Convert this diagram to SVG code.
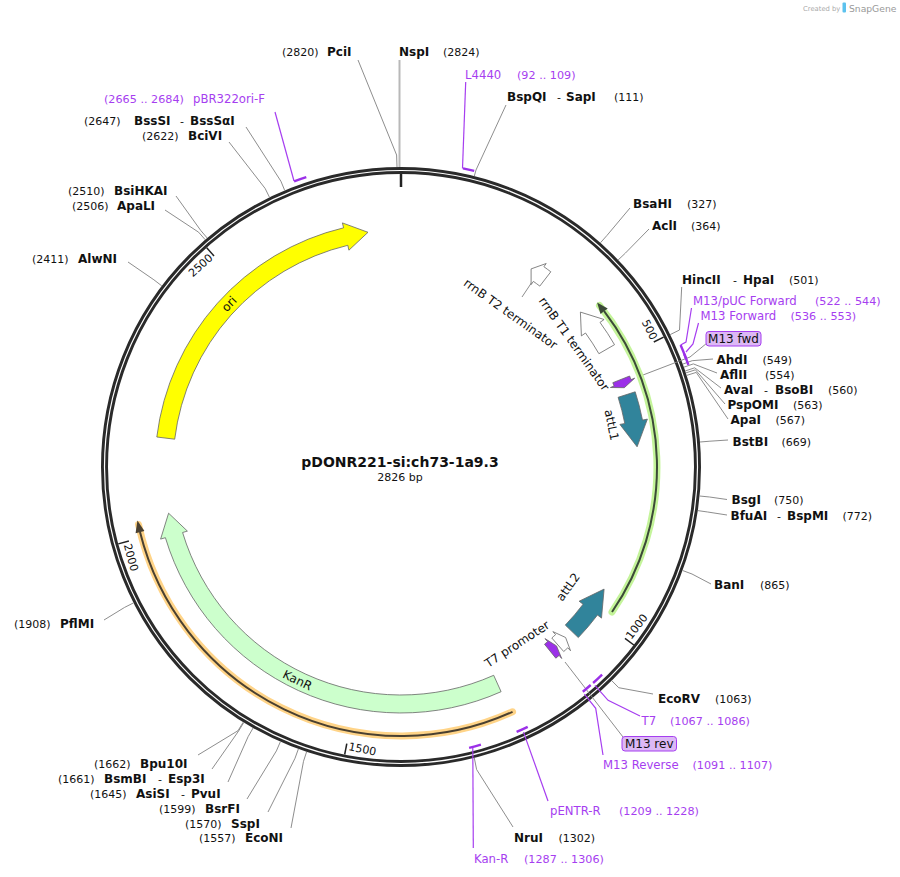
<svg xmlns="http://www.w3.org/2000/svg" width="900" height="877" viewBox="0 0 900 877">
<style>
text{font-family:"DejaVu Sans","Liberation Sans",sans-serif;fill:#111}
.b{font-weight:bold;font-size:12px}
.n{font-size:11px}
.p{font-size:11.7px;fill:#a63ef0}
.pn{font-size:11.2px;fill:#a63ef0}
.f{font-size:12px}
.tk{font-size:11px}
.site{fill:none;stroke:#808080;stroke-width:0.9}
.pl{fill:none;stroke:#a63ef0;stroke-width:1.2}
.pr{fill:none;stroke:#9b30e8;stroke-width:2.4}
.feat{stroke:#666;stroke-width:0.8}
.tick{stroke:#222;stroke-width:1.5}
</style>
<rect width="900" height="877" fill="#fff"/>

<g id="credit">
<text x="803" y="11" style="font-size:6.8px;fill:#aaa">Created by</text>
<rect x="842.5" y="2.5" width="3.5" height="10" rx="1" fill="#5cc2ee"/>
<text x="849" y="11.5" style="font-size:9.2px;fill:#999">SnapGene</text>
</g>

<g id="backbone">
<circle cx="401" cy="467" r="296.5" fill="none" stroke="#2a2a2a" stroke-width="7"/>
<circle cx="401" cy="467" r="296.5" fill="none" stroke="#fff" stroke-width="1.2"/>
</g>

<g id="ticks">
<line x1="401" y1="174" x2="401" y2="187" stroke="#222" stroke-width="2.5"/>
<line class="tick" x1="653.8" y1="342.0" x2="663.6" y2="337.1"/>
<line class="tick" x1="625.0" y1="638.3" x2="633.8" y2="645.0"/>
<line class="tick" x1="346.8" y1="743.7" x2="344.7" y2="754.5"/>
<line class="tick" x1="128.9" y1="541.0" x2="118.3" y2="543.9"/>
<line class="tick" x1="214.0" y1="255.9" x2="206.7" y2="247.7"/>
<text class="tk" text-anchor="end" transform="translate(650.9,340.8) rotate(63.69)">500</text>
<text class="tk" text-anchor="start" transform="translate(631.3,639.9) rotate(-52.61)">1000</text>
<text class="tk" text-anchor="start" transform="translate(348.0,750.1) rotate(11.08)">1500</text>
<text class="tk" text-anchor="start" transform="translate(123.7,544.9) rotate(74.78)">2000</text>
<text class="tk" text-anchor="end" transform="translate(213.6,258.9) rotate(-41.53)">2500</text>
</g>

<g id="connectors">
<polyline class="site" points="397,167 396.6,155 358,60"/>
<line x1="399.5" y1="60" x2="399.5" y2="167" stroke="#b8b8b8" stroke-width="2"/>
<polyline class="site" points="474.3,176.1 476,170 506,105"/>
<polyline class="site" points="600.4,242.8 607,235.4 630,208"/>
<polyline class="site" points="618.1,260 625.4,253.1 649,229"/>
<polyline class="site" points="670.2,334.6 679.5,330 681.7,287"/>
<polyline class="site" points="682.8,364.1 692.2,360.7 713,359"/>
<polyline class="site" points="683.9,367.2 693.3,363.9 717,373"/>
<polyline class="site" points="685.2,371 694.7,367.8 721,388"/>
<polyline class="site" points="685.9,372.9 695.4,369.8 725,404"/>
<polyline class="site" points="686.7,375.4 696.2,372.4 728,419"/>
<polyline class="site" points="700,442 709.9,441.2 728,440"/>
<polyline class="site" points="699.6,496 709.6,497 727,499.5"/>
<polyline class="site" points="697.8,510.6 707.7,512 727,515"/>
<polyline class="site" points="682.6,570.5 692,574 711,584"/>
<polyline class="site" points="611.7,680.6 618.7,687.7 653,694"/>
<polyline class="site" points="474.3,757.9 476.6,769.5 513,827"/>
<polyline class="site" points="306.6,751.8 303.5,761.3 291,828"/>
<polyline class="site" points="298.4,748.9 295,758.3 268,812"/>
<polyline class="site" points="280.4,741.7 276.4,750.9 247,799"/>
<polyline class="site" points="253.1,728 248.1,736.7 228,782"/>
<polyline class="site" points="243.8,722.5 238.6,731 212,769"/>
<polyline class="site" points="243.2,722.2 238,730.7 198,755"/>
<polyline class="site" points="133.5,602.9 124.6,607.4 104,620"/>
<polyline class="site" points="161.8,285.9 153.9,279.8 128,262"/>
<polyline class="site" points="205.2,239.7 198.6,232.2 165,210"/>
<polyline class="site" points="207.2,238 200.7,230.4 176,196"/>
<polyline class="site" points="269.5,197.3 265.1,188.4 229,142"/>
<polyline class="site" points="284.7,190.4 280.9,181.2 246,127"/>
<line class="site" x1="522" y1="297" x2="532" y2="282"/>
<polyline class="site" points="643,375 690,357 707,343"/>
<line class="site" x1="565" y1="662" x2="623" y2="737"/>
<polyline class="pl" points="465.7,82 462.5,168.4"/>
<polyline class="pl" points="275,112 294,181"/>
<polyline class="pl" points="691.5,308 686,342 680.6,345.1"/>
<polyline class="pl" points="698.5,323 693,344 686,352"/>
<polyline class="pl" points="594.9,685.4 608.1,700.3 640,716"/>
<polyline class="pl" points="584.4,694.2 595.7,708.3 603,755"/>
<polyline class="pl" points="523.5,732.1 548,801"/>
<polyline class="pl" points="472.8,748 473.3,848"/>
</g>

<g id="primers">
<path class="pr" d="M463.0,168.4 A305,305 0 0 1 474.2,170.9"/>
<path class="pr" d="M294.1,181.3 A305,305 0 0 1 306.3,177.1"/>
<path class="pr" d="M680.6,345.1 A305,305 0 0 1 686.2,359.0"/>
<path class="pr" d="M684.3,354.0 A305,305 0 0 1 688.4,364.9"/>
<path class="pr" d="M602.1,674.6 A289,289 0 0 1 593.1,683.0"/>
<path class="pr" d="M590.7,685.0 A289,289 0 0 1 582.8,691.7"/>
<path class="pr" d="M527.7,726.8 A289,289 0 0 1 516.6,731.9"/>
<path class="pr" d="M480.9,744.7 A289,289 0 0 1 469.1,747.9"/>
</g>

<g id="orf-green">
<path d="M612.0,612.0 A256,256 0 0 0 599.5,305.5" fill="none" stroke="#c4f49a" stroke-width="7" stroke-linecap="round"/>
<path d="M612.0,612.0 A256,256 0 0 0 604.1,311.2" fill="none" stroke="#3c4a38" stroke-width="2"/>
<polygon points="607.7,308.4 597.1,302.4 600.5,313.9" fill="#3c4a38"/>
</g>
<g id="orf-orange">
<path d="M512.55,711.8 A269,269 0 0 1 138.5,524.5" fill="none" stroke="#ffd488" stroke-width="7" stroke-linecap="round"/>
<path d="M512.55,711.8 A269,269 0 0 1 140.0,532.1" fill="none" stroke="#4a4030" stroke-width="2"/>
<polygon points="135.6,533.2 137.4,520.6 144.4,531.0" fill="#4a4030"/>
</g>

<g id="ori">
<path class="feat" fill="#ffff00" d="M156.8,437.0 A246,246 0 0 1 343.6,227.8 L342.4,222.9 L368.0,232.3 L348.9,250.2 L347.8,245.3 A228,228 0 0 0 174.7,439.2 Z"/>
<text class="f" text-anchor="middle" dy="0.35em" transform="translate(229.1,303.9) rotate(-46.5)">ori</text>
</g>
<g id="KanR">
<path class="feat" fill="#ccffcc" d="M501.1,691.7 A246,246 0 0 1 165.4,537.7 L160.6,539.1 L168.6,513.2 L187.4,531.1 L182.6,532.5 A228,228 0 0 0 493.7,675.3 Z"/>
<text class="f" text-anchor="middle" dy="0.35em" transform="translate(297.5,680.2) rotate(25.9)">KanR</text>
</g>
<g id="rrnB-T2">
<path class="feat" fill="#fff" d="M550.8,271.8 A246,246 0 0 0 543.9,266.7 L546.2,263.5 L531.1,268.9 L531.1,284.6 L533.4,281.4 A228,228 0 0 1 539.8,286.1 Z"/>
<text class="f" text-anchor="middle" dy="0.35em" transform="translate(510.5,313.8) rotate(35.6)">rrnB T2 terminator</text>
</g>
<g id="rrnB-T1">
<path class="feat" fill="#fff" d="M614.5,344.7 A246,246 0 0 0 600.0,322.4 L604.1,319.5 L580.4,312.1 L581.4,335.9 L585.5,333.0 A228,228 0 0 1 598.9,353.7 Z"/>
<text class="f" text-anchor="middle" dy="0.35em" transform="translate(574,343.8) rotate(54.5)">rrnB T1 terminator</text>
</g>
<g id="M13-fwd-feature">
<path class="feat" fill="#9b30e8" d="M629.6,376.0 A246,246 0 0 1 631.0,379.6 L634.7,378.2 L624.3,387.7 L610.4,387.5 L614.1,386.0 A228,228 0 0 0 612.8,382.7 Z"/>
</g>
<g id="attL1">
<path class="feat" fill="#31849b" d="M635.2,391.8 A246,246 0 0 1 642.5,420.1 L647.4,419.1 L637.1,446.8 L619.9,424.4 L624.8,423.5 A228,228 0 0 0 618.1,397.3 Z"/>
<text class="f" text-anchor="middle" dy="0.35em" transform="translate(611.7,425) rotate(78.7)">attL1</text>
</g>
<g id="attL2">
<path class="feat" fill="#31849b" d="M578.3,637.6 A246,246 0 0 0 597.5,615.0 L601.5,618.1 L604.1,589.1 L579.1,601.2 L583.1,604.2 A228,228 0 0 1 565.3,625.1 Z"/>
<text class="f" text-anchor="middle" dy="0.35em" transform="translate(568,587) rotate(-54.3)">attL2</text>
</g>
<g id="T7-promoter">
<path class="feat" fill="#fff" d="M563.7,651.5 A246,246 0 0 0 567.8,647.8 L570.5,650.7 L565.6,637.5 L552.9,631.6 L555.6,634.6 A228,228 0 0 1 551.8,638.0 Z"/>
<text class="f" text-anchor="middle" dy="0.35em" transform="translate(517,644) rotate(-33.2)">T7 promoter</text>
</g>
<g id="M13-rev-feature">
<path class="feat" fill="#9b30e8" d="M555.8,658.2 A246,246 0 0 0 559.1,655.4 L561.7,658.5 L556.5,645.9 L545.0,638.6 L547.6,641.7 A228,228 0 0 1 544.5,644.2 Z"/>
</g>

<g id="title">
<text x="400" y="467" text-anchor="middle" style="font-weight:bold;font-size:14px">pDONR221-si:ch73-1a9.3</text>
<text x="400" y="481" text-anchor="middle" style="font-size:11px">2826 bp</text>
</g>

<g id="box-M13fwd">
<rect x="706" y="331.5" width="55" height="14.5" rx="3" fill="#dcb8f5" stroke="#a63ef0" stroke-width="1"/>
<text x="733.5" y="343" text-anchor="middle" style="font-size:12px">M13 fwd</text>
</g>
<g id="box-M13rev">
<rect x="622" y="736.5" width="54.5" height="14.5" rx="3" fill="#dcb8f5" stroke="#a63ef0" stroke-width="1"/>
<text x="649.2" y="748" text-anchor="middle" style="font-size:12px">M13 rev</text>
</g>

<g id="labels-top">
<text class="n" x="282" y="56">(2820)</text><text class="b" x="327" y="56">PciI</text>
<text class="b" x="399" y="56">NspI</text><text class="n" x="443" y="56">(2824)</text>
<text class="p" x="465" y="79">L4440</text><text class="pn" x="517" y="79">(92 .. 109)</text>
<text class="b" x="507" y="101">BspQI</text><text class="n" x="557" y="101">-</text><text class="b" x="566" y="101">SapI</text><text class="n" x="614" y="101">(111)</text>
<text class="pn" x="104" y="103">(2665 .. 2684)</text><text class="p" x="193" y="103">pBR322ori-F</text>
<text class="n" x="84" y="125">(2647)</text><text class="b" x="134" y="125">BssSI</text><text class="n" x="180" y="125">-</text><text class="b" x="190" y="125">BssSαI</text>
<text class="n" x="142" y="140">(2622)</text><text class="b" x="188" y="140">BciVI</text>
<text class="n" x="68" y="195">(2510)</text><text class="b" x="114" y="195">BsiHKAI</text>
<text class="n" x="72" y="209.5">(2506)</text><text class="b" x="117" y="209.5">ApaLI</text>
<text class="n" x="32" y="262.5">(2411)</text><text class="b" x="78" y="262.5">AlwNI</text>
</g>

<g id="labels-right">
<text class="b" x="633" y="207.5">BsaHI</text><text class="n" x="687" y="207.5">(327)</text>
<text class="b" x="652" y="230">AclI</text><text class="n" x="691" y="230">(364)</text>
<text class="b" x="682" y="283.5">HincII</text><text class="n" x="733" y="283.5">-</text><text class="b" x="743" y="283.5">HpaI</text><text class="n" x="789" y="283.5">(501)</text>
<text class="p" x="693" y="305">M13/pUC Forward</text><text class="pn" x="815" y="305">(522 .. 544)</text>
<text class="p" x="700.5" y="320">M13 Forward</text><text class="pn" x="790.5" y="320">(536 .. 553)</text>
<text class="b" x="716.5" y="364">AhdI</text><text class="n" x="762.5" y="364">(549)</text>
<text class="b" x="720" y="378.5">AflII</text><text class="n" x="765" y="378.5">(554)</text>
<text class="b" x="724" y="394">AvaI</text><text class="n" x="764" y="394">-</text><text class="b" x="775" y="394">BsoBI</text><text class="n" x="828" y="394">(560)</text>
<text class="b" x="727.5" y="409">PspOMI</text><text class="n" x="793" y="409">(563)</text>
<text class="b" x="730.5" y="424">ApaI</text><text class="n" x="775.5" y="424">(567)</text>
<text class="b" x="732.5" y="446">BstBI</text><text class="n" x="781.5" y="446">(669)</text>
<text class="b" x="731.5" y="504">BsgI</text><text class="n" x="774" y="504">(750)</text>
<text class="b" x="730.5" y="520">BfuAI</text><text class="n" x="777" y="520">-</text><text class="b" x="787" y="520">BspMI</text><text class="n" x="842.5" y="520">(772)</text>
<text class="b" x="714" y="589">BanI</text><text class="n" x="760" y="589">(865)</text>
</g>

<g id="labels-bottom">
<text class="b" x="658" y="703">EcoRV</text><text class="n" x="715" y="703">(1063)</text>
<text class="p" x="641.5" y="725">T7</text><text class="pn" x="670" y="725">(1067 .. 1086)</text>
<text class="p" x="603" y="768.5">M13 Reverse</text><text class="pn" x="692.5" y="768.5">(1091 .. 1107)</text>
<text class="p" x="550" y="815">pENTR-R</text><text class="pn" x="619" y="815">(1209 .. 1228)</text>
<text class="b" x="514" y="841.5">NruI</text><text class="n" x="558.5" y="841.5">(1302)</text>
<text class="p" x="474" y="863">Kan-R</text><text class="pn" x="524" y="863">(1287 .. 1306)</text>
</g>

<g id="labels-left">
<text class="n" x="94" y="767.5">(1662)</text><text class="b" x="140" y="767.5">Bpu10I</text>
<text class="n" x="58" y="783">(1661)</text><text class="b" x="104" y="783">BsmBI</text><text class="n" x="158" y="783">-</text><text class="b" x="168" y="783">Esp3I</text>
<text class="n" x="90" y="797.5">(1645)</text><text class="b" x="136" y="797.5">AsiSI</text><text class="n" x="181" y="797.5">-</text><text class="b" x="191" y="797.5">PvuI</text>
<text class="n" x="159" y="812.5">(1599)</text><text class="b" x="205" y="812.5">BsrFI</text>
<text class="n" x="185" y="828">(1570)</text><text class="b" x="231" y="828">SspI</text>
<text class="n" x="199" y="842">(1557)</text><text class="b" x="245" y="842">EcoNI</text>
<text class="n" x="14" y="628">(1908)</text><text class="b" x="60" y="628">PflMI</text>
</g>
</svg>
